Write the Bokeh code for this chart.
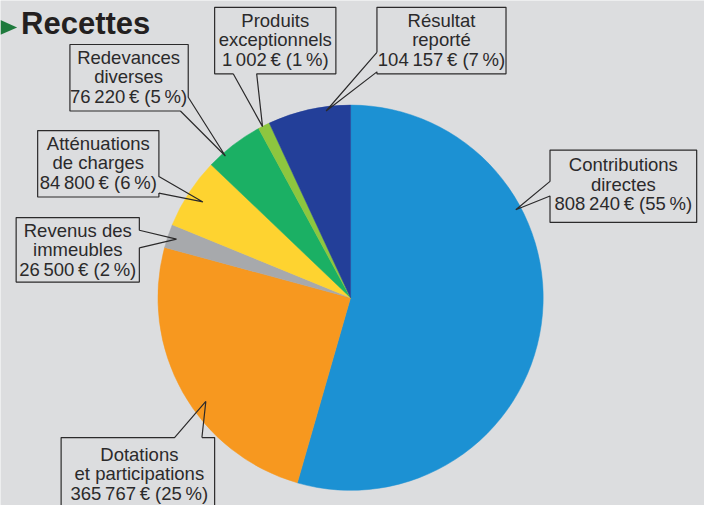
import numpy as np
from bokeh.plotting import figure
from bokeh.models import Range1d, ColumnDataSource
from bokeh.core.properties import value
from bokeh.embed import file_html
from bokeh.resources import INLINE

# ---------------- data ----------------
categories = ["Contributions directes", "Dotations et participations", "Revenus des immeubles",
              "Atténuations de charges", "Redevances diverses", "Produits exceptionnels",
              "Résultat reporté"]
name_lines = [["Contributions", "directes"], ["Dotations", "et participations"],
              ["Revenus des", "immeubles"], ["Atténuations", "de charges"],
              ["Redevances", "diverses"], ["Produits", "exceptionnels"], ["Résultat", "reporté"]]
amounts = [808240, 365767, 26500, 84800, 76220, 1002, 104157]
percents = [55, 25, 2, 6, 5, 1, 7]
colors = ["#1C91D3", "#F7981F", "#A7A9AC", "#FED330", "#1BB064", "#8DC63F", "#233F99"]
title = "Recettes"

BG = "#DCDDDF"
INK = "#2B2A2B"
H = 521.0

def Y(y):
    return H - y

def fmt(n):
    return f"{n:,}".replace(",", "\u2009")

# --------------- layout of callouts (reference pixel coords) ---------------
callouts = [
    dict(box=(562, 155, 712, 229), a1=(562, 187), a2=(562, 202), tip=(527, 216), cx=637, y0=170),
    dict(box=(62, 449, 219, 540), a1=(178, 449), a2=(206, 449), tip=(210, 412), cx=142, y0=466),
    dict(box=(16, 224, 142, 290), a1=(142, 237), a2=(142, 255), tip=(180, 246), cx=79, y0=237),
    dict(box=(38, 135, 162, 203), a1=(162, 182), a2=(162, 199), tip=(207, 208), cx=100, y0=148),
    dict(box=(71, 47, 192, 115), a1=(184, 115), a2=(192, 101), tip=(230, 161), cx=131, y0=60),
    dict(box=(219, 9, 343, 77), a1=(238, 77), a2=(262, 77), tip=(268, 131), cx=281, y0=22),
    dict(box=(385, 9, 517, 77), a1=(385, 55), a2=(385, 75), tip=(333, 115), cx=451, y0=22),
]

def perim_s(box, pt):
    l, t, r, b = box
    W, Hh = r - l, b - t
    x, y = pt
    if abs(y - t) < 1e-6:
        return x - l
    if abs(x - r) < 1e-6:
        return W + (y - t)
    if abs(y - b) < 1e-6:
        return W + Hh + (r - x)
    return 2 * W + Hh + (b - y)

def outline(box, a1, a2, tip):
    l, t, r, b = box
    W, Hh = r - l, b - t
    P = 2 * (W + Hh)
    corners = [(0, (l, t)), (W, (r, t)), (W + Hh, (r, b)), (2 * W + Hh, (l, b))]
    s1, s2 = perim_s(box, a1), perim_s(box, a2)
    if (s1 - s2) % P < P / 2:
        a1, a2 = a2, a1
        s1, s2 = s2, s1
    pts = [a2]
    length = (s1 - s2) % P
    cs = sorted(((cs_ - s2) % P, c) for cs_, c in corners)
    for d, c in cs:
        if 0 < d < length:
            pts.append(c)
    pts.append(a1)
    pts.append(tip)
    pts.append(a2)
    return [q[0] for q in pts], [Y(q[1]) for q in pts]

# ---------------- figure ----------------
p = figure(width=704, height=505, output_backend="svg", toolbar_location=None,
           x_range=Range1d(0, 720), y_range=Range1d(2.5, 519), min_border=0)
p.axis.visible = False
p.grid.visible = False
p.outline_line_color = None
p.background_fill_color = BG
p.border_fill_color = BG

# pie
cx, cy, R = 358, Y(306), 197
tot = float(sum(percents))
ends = np.cumsum(percents) / tot * 2 * np.pi
starts = np.concatenate([[0], ends[:-1]])
src = ColumnDataSource(dict(start=np.pi / 2 - ends, end=np.pi / 2 - starts, color=colors, cat=categories))
p.wedge(x=cx, y=cy, radius=R, start_angle="start", end_angle="end", direction="anticlock",
        fill_color="color", line_color="color", line_width=0.5, source=src)

# callouts
for i, c in enumerate(callouts):
    l, t, r, b = c["box"]
    p.quad(left=l, right=r, top=Y(t), bottom=Y(b), fill_color=BG, line_color=None)
    xs, ys = outline(c["box"], c["a1"], c["a2"], c["tip"])
    p.line(xs, ys, line_color=INK, line_width=1.2)
    lines = name_lines[i] + [f"{fmt(amounts[i])}\u2009€ ({percents[i]}\u2009%)"]
    p.text(x=[c["cx"]] * 3, y=[Y(c["y0"] + 20 * k) for k in range(3)], text=lines,
           text_align="center", text_baseline="middle", text_font=value("Liberation Sans"),
           text_font_size="18.5px", text_color=INK)

# title
p.patch([0, 0, 17], [Y(22), Y(37), Y(29.5)], fill_color="#1E7A3D", line_color=None)
p.text(x=[21], y=[Y(26)], text=[title], text_font=value("Liberation Sans"), text_font_style="bold",
       text_font_size="31px", text_color="#231F20", text_baseline="alphabetic", text_align="left")

open("out.html", "w").write(file_html(p, INLINE))
